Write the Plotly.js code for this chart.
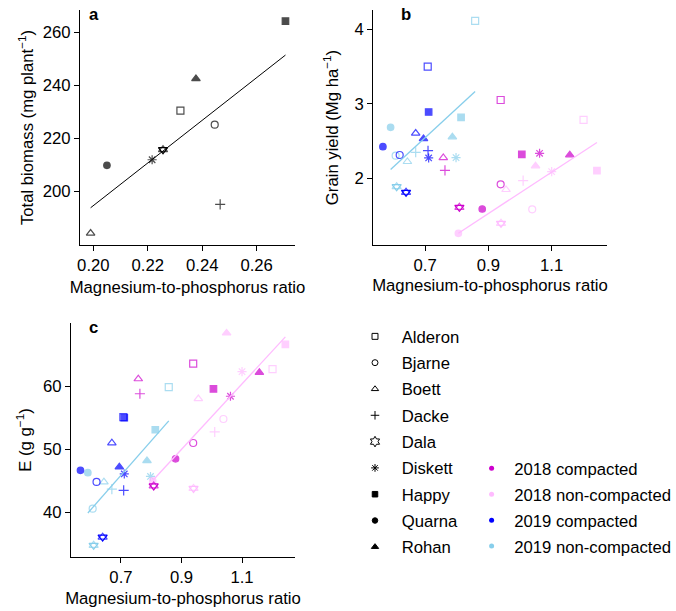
<!DOCTYPE html>
<html><head><meta charset="utf-8">
<script src="https://cdn.plot.ly/plotly-3.0.1.min.js"></script>
<style>html,body{margin:0;padding:0;background:#fff}#chart{width:676px;height:611px}</style>
</head><body><div id="chart"></div>
<script>
// ---------- data ----------
const genotypes = ["Alderon","Bjarne","Boett","Dacke","Dala","Diskett","Happy","Quarna","Rohan"];
const groups = ["2018 compacted","2018 non-compacted","2019 compacted","2019 non-compacted"];

// panel a: mean Mg:P ratio vs total biomass (mg plant-1)
const biomassRatio = [0.2320, 0.2446, 0.1990, 0.2466, 0.2256, 0.2216, 0.2706, 0.2050, 0.2377];
const biomass      = [230.5, 225.2, 184.3, 195.2, 215.8, 212.0, 264.2, 209.9, 242.5];

// panels b and c: Mg:P ratio per group
const ratio2018C = [0.9387, 0.9387, 0.7573, 0.7626, 0.8082, 1.0618, 1.0056, 0.8804, 1.1573];
const ratio2018N = [1.2008, 1.0385, 0.9557, 1.0098, 0.9398, 1.1000, 1.2432, 0.8050, 1.0490];
const ratio2019C = [0.7080, 0.6194, 0.6700, 0.7090, 0.6395, 0.7110, 0.7110, 0.5663, 0.6947];
const ratio2019N = [0.8580, 0.6066, 0.6438, 0.6700, 0.6098, 0.7976, 0.8135, 0.5907, 0.7860];

// panel b: grain yield (Mg ha-1)
const yield2018C = [3.051, 1.919, 2.277, 2.107, 1.611, 2.336, 2.322, 1.588, 2.313];
const yield2018N = [2.783, 1.584, 1.848, 1.969, 1.396, 2.089, 2.103, 1.262, 2.166];
const yield2019C = [3.499, 2.313, 2.604, 2.371, 1.812, 2.273, 2.890, 2.425, 2.532];
const yield2019N = [4.112, 2.304, 2.224, 2.349, 1.888, 2.277, 2.819, 2.685, 2.555];

// panel c: E (g g-1)
const e2018C = [63.56, 51.00, 61.15, 58.80, 44.20, 58.40, 59.57, 48.50, 62.15];
const e2018N = [62.70, 54.80, 58.00, 52.75, 43.80, 62.30, 66.60, 45.00, 68.40];
const e2019C = [55.10, 44.83, 51.00, 43.50, 36.10, 46.10, 55.00, 46.67, 47.20];
const e2019N = [59.84, 40.60, 44.83, 43.70, 34.80, 45.70, 53.10, 46.30, 48.20];

// ---------- styles ----------
const FONT = "Liberation Sans, Arial, sans-serif";
const FS = 16.7;
const colors = {"2018 compacted":"#CD00CD","2018 non-compacted":"#FFBBFF","2019 compacted":"#0000FF","2019 non-compacted":"#87CEEB"};
const symbols = {Alderon:"square-open",Bjarne:"circle-open",Boett:"triangle-up-open",Dacke:"cross-thin-open",
  Dala:"triangle-up-open",Diskett:"asterisk-open",Happy:"square",Quarna:"circle",Rohan:"triangle-up"};
const sizes = {Alderon:7,Bjarne:7,Boett:7.5,Dacke:7.2,Dala:8,Diskett:7.6,Happy:6.5,Quarna:6.5,Rohan:7.5};

function pointTraces(x, y, color, xa, ya) {
  const di = genotypes.indexOf("Dala");
  return [
    {type:"scatter", mode:"markers", x:x, y:y, xaxis:xa, yaxis:ya, showlegend:false, hoverinfo:"x+y",
     text:genotypes,
     marker:{color:color, symbol:genotypes.map(g=>symbols[g]), size:genotypes.map(g=>sizes[g]),
             line:{color:color, width:1.2}}},
    {type:"scatter", mode:"markers", x:[x[di]], y:[y[di]], xaxis:xa, yaxis:ya, showlegend:false, hoverinfo:"skip",
     marker:{color:color, symbol:"triangle-down-open", size:8, line:{color:color, width:1.2}}}
  ];
}
function olsLine(x, y, color, xa, ya, width) {
  const n = x.length;
  const mx = x.reduce((a,b)=>a+b,0)/n, my = y.reduce((a,b)=>a+b,0)/n;
  let sxy=0, sxx=0;
  for (let i=0;i<n;i++){ sxy+=(x[i]-mx)*(y[i]-my); sxx+=(x[i]-mx)*(x[i]-mx); }
  const b = sxy/sxx, a = my - b*mx;
  const x0 = Math.min(...x), x1 = Math.max(...x);
  return {type:"scatter", mode:"lines", x:[x0,x1], y:[a+b*x0, a+b*x1], xaxis:xa, yaxis:ya,
          showlegend:false, hoverinfo:"skip", line:{color:color, width:width}};
}

let traces = [];
// panel a
traces.push(olsLine(biomassRatio, biomass, "#000", "x", "y", 1));
traces = traces.concat(pointTraces(biomassRatio, biomass, "#000", "x", "y"));

// panels b, c
const bySeries = [
  ["2019 non-compacted", ratio2019N, yield2019N, e2019N],
  ["2019 compacted",     ratio2019C, yield2019C, e2019C],
  ["2018 non-compacted", ratio2018N, yield2018N, e2018N],
  ["2018 compacted",     ratio2018C, yield2018C, e2018C]
];
bySeries.forEach(([g, r, yv, ev]) => {
  traces = traces.concat(pointTraces(r, yv, colors[g], "x2", "y2"));
  traces = traces.concat(pointTraces(r, ev, colors[g], "x3", "y3"));
});
traces.push(olsLine(ratio2019N, yield2019N, colors["2019 non-compacted"], "x2", "y2", 1.3));
traces.push(olsLine(ratio2018N, yield2018N, colors["2018 non-compacted"], "x2", "y2", 1.3));
traces.push(olsLine(ratio2019N, e2019N, colors["2019 non-compacted"], "x3", "y3", 1.3));
traces.push(olsLine(ratio2018N, e2018N, colors["2018 non-compacted"], "x3", "y3", 1.3));

// legend entries (no data)
genotypes.forEach((g, i) => {
  traces.push({type:"scatter", mode:"markers", x:[null], y:[null], xaxis:"x", yaxis:"y", name:g,
    legend:"legend", legendgroup:"g"+i, hoverinfo:"skip",
    marker:{color:"#000", symbol: g==="Dala" ? "hexagram-open" : symbols[g], size: g==="Dala" ? 8 : sizes[g]*0.85,
            line:{color:"#000", width:1}}});
});
groups.forEach((g, i) => {
  traces.push({type:"scatter", mode:"markers", x:[null], y:[null], xaxis:"x", yaxis:"y", name:g,
    legend:"legend2", legendgroup:"c"+i, hoverinfo:"skip",
    marker:{color:colors[g], symbol:"circle", size:5}});
});

const W=676, H=611;
const tf = {family:FONT, size:FS, color:"#000"};
const ax = {showline:true, linecolor:"#000", linewidth:1, ticks:"outside", ticklen:5, tickwidth:1, tickcolor:"#000",
  showgrid:false, zeroline:false, mirror:false, tickfont:tf, fixedrange:true};

const layout = {
  width:W, height:H, margin:{l:0,r:0,t:0,b:0}, paper_bgcolor:"#fff", plot_bgcolor:"rgba(0,0,0,0)",
  font:tf, showlegend:true, hovermode:"closest",
  xaxis: Object.assign({}, ax, {domain:[80/W,295/W], range:[0.1951,0.2741], tickvals:[0.20,0.22,0.24,0.26], tickformat:".2f", anchor:"y",
    title:{text:"Magnesium-to-phosphorus ratio", font:tf, standoff:7}}),
  yaxis: Object.assign({}, ax, {domain:[1-245/H,1-10/H], range:[179.9,268.4], tickvals:[200,220,240,260], anchor:"x",
    title:{text:"Total biomass (mg plant<sup>−1</sup>)", font:tf, standoff:4}}),
  xaxis2: Object.assign({}, ax, {domain:[373/W,607/W], range:[0.535,1.275], tickvals:[0.7,0.9,1.1], tickformat:".1f", anchor:"y2",
    title:{text:"Magnesium-to-phosphorus ratio", font:tf, standoff:5}}),
  yaxis2: Object.assign({}, ax, {domain:[1-245/H,1-10/H], range:[1.105,4.259], tickvals:[2,3,4], anchor:"x2",
    title:{text:"Grain yield (Mg ha<sup>−1</sup>)", font:tf, standoff:11}}),
  xaxis3: Object.assign({}, ax, {domain:[71/W,295/W], range:[0.535,1.275], tickvals:[0.7,0.9,1.1], tickformat:".1f", anchor:"y3",
    title:{text:"Magnesium-to-phosphorus ratio", font:tf, standoff:6}}),
  yaxis3: Object.assign({}, ax, {domain:[1-557/H,1-323/H], range:[32.95,70.0], tickvals:[40,50,60], anchor:"x3",
    title:{text:"E (g g<sup>−1</sup>)", font:tf, standoff:7}}),
  legend: {x:348.3/W, y:1-319/H, xanchor:"left", yanchor:"top", bgcolor:"rgba(0,0,0,0)", traceorder:"grouped", tracegroupgap:1.6,
    itemwidth:43.4, font:tf, itemclick:false, itemdoubleclick:false},
  legend2: {x:469.1/W, y:1-451/H, xanchor:"left", yanchor:"top", bgcolor:"rgba(0,0,0,0)", traceorder:"grouped", tracegroupgap:1.2,
    itemwidth:35.2, font:tf, itemclick:false, itemdoubleclick:false},
  annotations: [
    {text:"<b>a</b>", x:94/W, y:1-15/H, xref:"paper", yref:"paper", showarrow:false, xanchor:"center", yanchor:"middle", font:tf},
    {text:"<b>b</b>", x:406/W, y:1-15/H, xref:"paper", yref:"paper", showarrow:false, xanchor:"center", yanchor:"middle", font:tf},
    {text:"<b>c</b>", x:93/W, y:1-327/H, xref:"paper", yref:"paper", showarrow:false, xanchor:"center", yanchor:"middle", font:tf}
  ]
};
Plotly.newPlot("chart", traces, layout, {displayModeBar:false, responsive:false});
</script>
</body></html>
